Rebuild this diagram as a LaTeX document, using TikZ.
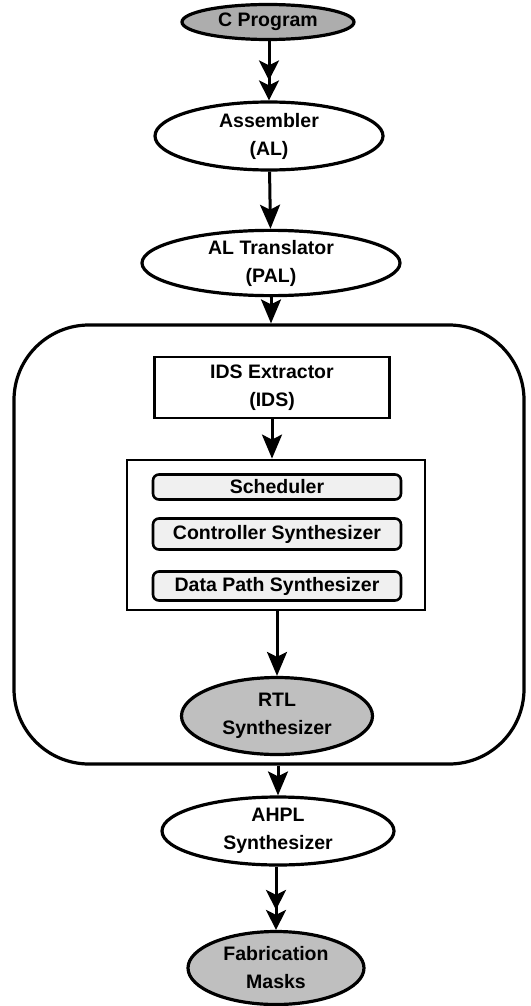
\documentclass[tikz,border=0pt]{standalone}
\usepackage{fontspec}
\setmainfont{Liberation Sans}
\usetikzlibrary{shapes.geometric,arrows.meta}

\tikzset{
  every node/.style={font=\fontsize{19.5}{28}\selectfont\bfseries, align=center},
  oval/.style={ellipse, draw, line width=3.2pt, inner sep=0pt},
  shaded/.style={oval, fill=black!32},
  framebox/.style={rectangle, draw, line width=2.8pt, inner sep=0pt},
  substep/.style={rectangle, rounded corners=6pt, draw, line width=2.6pt,
                  fill=black!6, inner sep=0pt, minimum width=248pt},
  head/.style={Stealth[length=24pt,width=20pt,inset=5pt]},
  flow/.style={line width=3pt, -{Stealth[length=24pt,width=20pt,inset=5pt]}},
  flowtwo/.style={line width=3pt,
    -{Stealth[length=20pt,width=20pt,inset=5pt]Stealth[length=20pt,width=20pt,inset=5pt]}},
}

\begin{document}
\begin{tikzpicture}[x=1pt, y=-1pt]
  \useasboundingbox (0,0) rectangle (530,1006);

  % front end: compiler chain
  \node[shaded, minimum width=172pt, minimum height=35pt] (cprog) at (268,22) {C Program};
  \node[oval, minimum width=228pt, minimum height=68pt] (asm) at (269,136) {Assembler\\(AL)};
  \node[oval, minimum width=258pt, minimum height=60pt] (altr) at (271,263) {AL Translator\\(PAL)};

  % synthesis core
  \node[draw, line width=3.2pt, rounded corners=75pt, minimum width=510pt,
        minimum height=439pt] (core) at (269,544.5) {};
  \node[framebox, minimum width=235pt, minimum height=61pt] (ids) at (272,387.5) {IDS Extractor\\(IDS)};
  \node[framebox, minimum width=298pt, minimum height=150pt] (hls) at (276,535) {};
  \node[substep, minimum height=25pt] (sched) at (277,487) {Scheduler};
  \node[substep, minimum height=31pt] (ctrl) at (277,534) {Controller Synthesizer};
  \node[substep, minimum height=29pt] (dpath) at (277,586) {Data Path Synthesizer};
  \node[shaded, fill=black!25, minimum width=191pt, minimum height=77pt] (rtl) at (277,716) {RTL\\Synthesizer};

  % back end
  \node[oval, minimum width=232pt, minimum height=68pt] (ahpl) at (278,831) {AHPL\\Synthesizer};
  \node[shaded, fill=black!25, minimum width=176pt, minimum height=73pt] (fab) at (276,968) {Fabrication\\Masks};

  % connectors
  \draw[flowtwo] (cprog.south -| asm.north) -- (asm.north);
  \draw[flow] (asm) -- (altr);
  \draw[flow] (altr) -- (altr |- core.north);
  \draw[flow] (ids) -- (ids |- hls.north);
  \draw[flow] (hls.south -| rtl.north) -- (rtl);
  \draw[flow] (ahpl |- core.south) -- (ahpl);
  \draw[flowtwo] (ahpl.south -| fab.north) -- (fab.north);
\end{tikzpicture}
\end{document}
